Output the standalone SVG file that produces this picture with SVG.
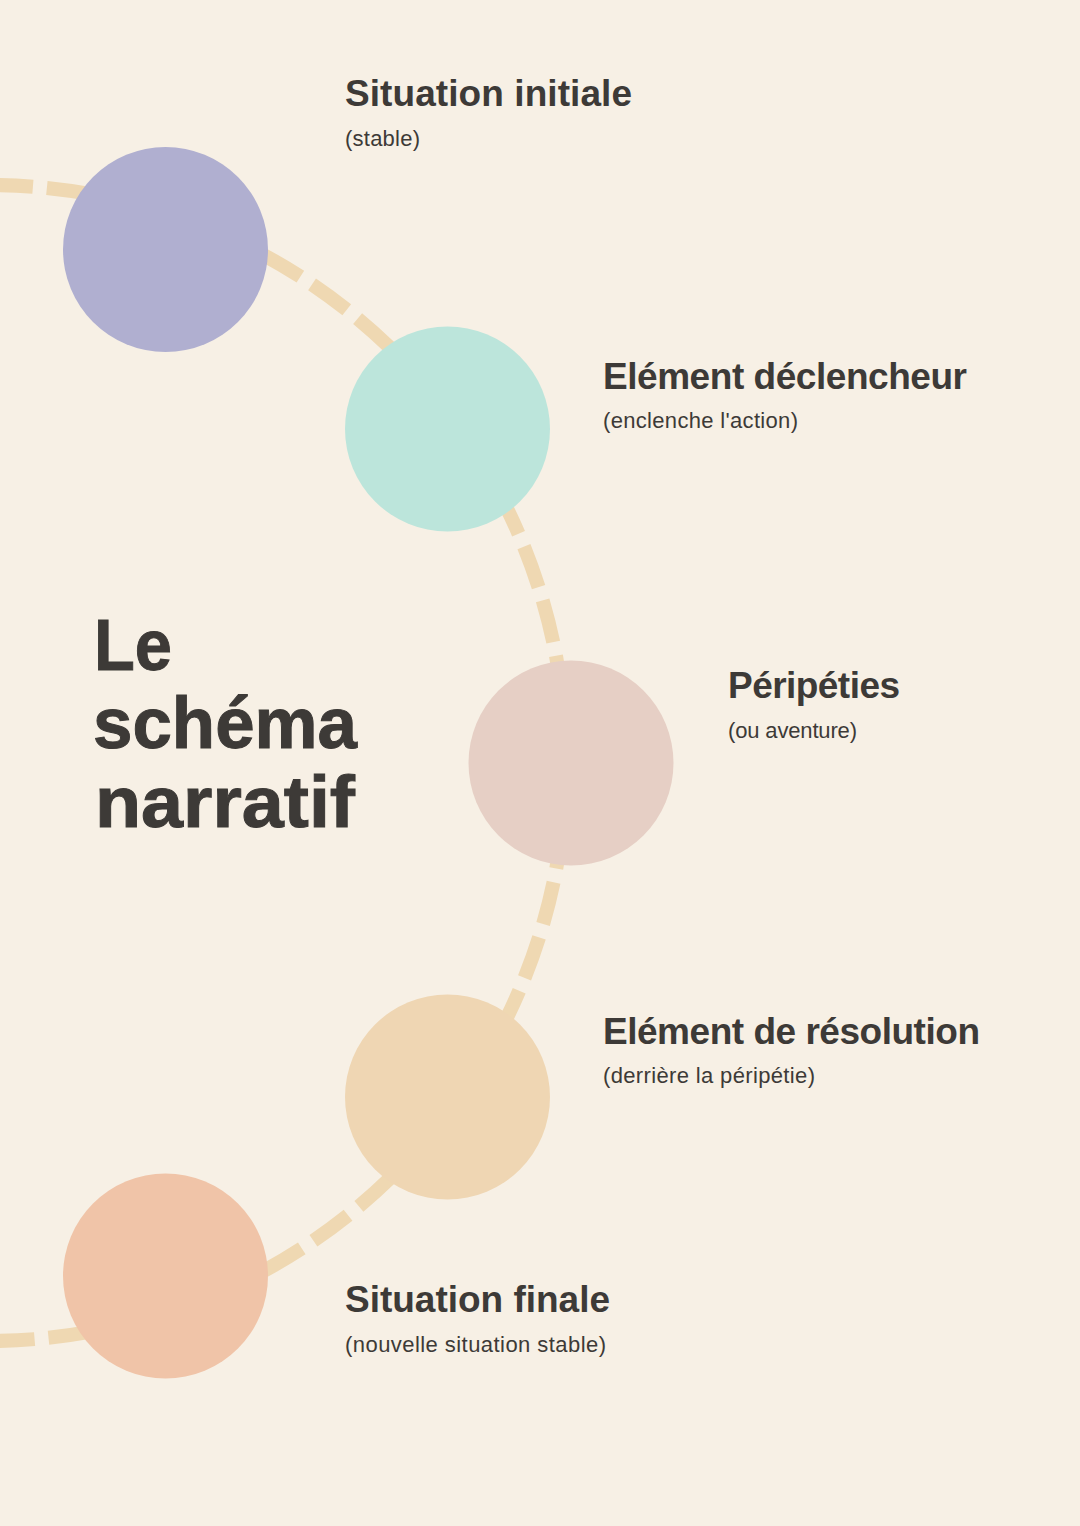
<svg xmlns="http://www.w3.org/2000/svg" width="1080" height="1526" viewBox="0 0 1080 1526">
  <style>
    .bg { fill: #F7F0E5; }
    .arc { fill: none; stroke: #EFD8B2; stroke-width: 14; stroke-dasharray: 43 14; stroke-dashoffset: 55; }
    .head { font-family: "Liberation Sans", Arial, sans-serif; font-weight: 700; font-size: 37px; fill: #3D3A37; }
    .sub { font-family: "Liberation Sans", Arial, sans-serif; font-weight: 400; font-size: 22px; fill: #3D3A37; }
    .title { font-family: "Liberation Sans", Arial, sans-serif; font-weight: 700; font-size: 73px; fill: #3D3A37; stroke: #3D3A37; stroke-width: 1; }
  </style>
  <rect class="bg" x="0" y="0" width="1080" height="1526"/>

  <g id="connectors">
    <path class="arc" d="M -12 185 A 578 578 0 0 1 -12 1341"/>
  </g>

  <g id="title">
    <text class="title" x="94" y="670" textLength="78" lengthAdjust="spacingAndGlyphs">Le</text>
    <text class="title" x="93" y="748" textLength="264" lengthAdjust="spacingAndGlyphs">schéma</text>
    <text class="title" x="95" y="827" textLength="260" lengthAdjust="spacingAndGlyphs">narratif</text>
  </g>

  <g id="node-situation-initiale">
    <circle cx="165.5" cy="249.5" r="102.5" fill="#B0AFD0"/>
    <text class="head" x="345" y="106" textLength="287">Situation initiale</text>
    <text class="sub" x="345" y="146" textLength="75">(stable)</text>
  </g>

  <g id="node-element-declencheur">
    <circle cx="447.5" cy="429" r="102.5" fill="#BCE5DB"/>
    <text class="head" x="603" y="389" textLength="364">Elément déclencheur</text>
    <text class="sub" x="603" y="428" textLength="195">(enclenche l'action)</text>
  </g>

  <g id="node-peripeties">
    <circle cx="571" cy="763" r="102.5" fill="#E6CFC5"/>
    <text class="head" x="728" y="698" textLength="172">Péripéties</text>
    <text class="sub" x="728" y="738" textLength="129">(ou aventure)</text>
  </g>

  <g id="node-element-resolution">
    <circle cx="447.5" cy="1097" r="102.5" fill="#EFD6B3"/>
    <text class="head" x="603" y="1044" textLength="377">Elément de résolution</text>
    <text class="sub" x="603" y="1083" textLength="212">(derrière la péripétie)</text>
  </g>

  <g id="node-situation-finale">
    <circle cx="165.5" cy="1276" r="102.5" fill="#F0C4A8"/>
    <text class="head" x="345" y="1312" textLength="265">Situation finale</text>
    <text class="sub" x="345" y="1352" textLength="261">(nouvelle situation stable)</text>
  </g>
</svg>
